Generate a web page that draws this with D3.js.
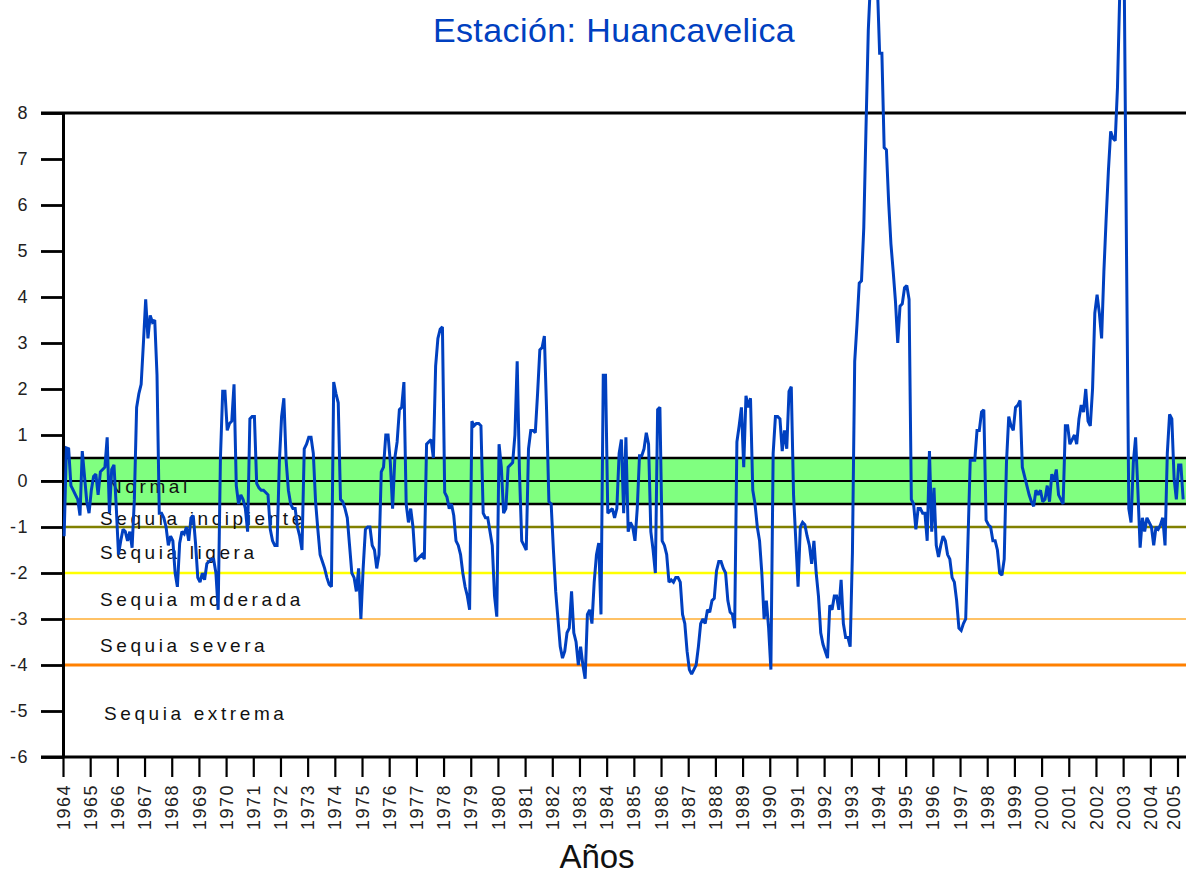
<!DOCTYPE html>
<html>
<head>
<meta charset="utf-8">
<script src="https://cdn.jsdelivr.net/npm/d3@7"></script>
<style>
  html, body { margin: 0; padding: 0; background: #ffffff; }
  svg { display: block; }
</style>
</head>
<body>
<svg id="chart" width="1186" height="876"></svg>
<script>
// Índice estandarizado de precipitación, estación Huancavelica (valores mensuales)
const titulo = "Estación: Huancavelica";
const tituloEjeX = "Años";
const anioInicio = 1964;
const anios = d3.range(1964, 2006);
const ticksY = d3.range(-6, 9);

const spi = [
  -1.2, 0.72, 0.7, -0.1, -0.2, -0.3, -0.4, -0.75, 0.65, 0.1, -0.45, -0.7,      // 1964
  -0.2, 0.1, 0.15, -0.3, 0.2, 0.25, 0.3, 0.95, -0.7, 0.25, 0.35, -0.55,        // 1965
  -1.6, -1.3, -1.05, -1.1, -1.3, -1.1, -1.45, -0.4, 1.6, 1.9, 2.1, 3.0,         // 1966
  3.95, 3.1, 3.6, 3.45, 3.5, 2.3, -0.7, -0.7, -0.8, -1.0, -1.4, -1.2,          // 1967
  -1.3, -2.0, -2.3, -1.35, -1.1, -1.15, -1.0, -1.3, -0.8, -0.75, -1.35, -2.1,  // 1968
  -2.2, -2.0, -2.15, -1.8, -1.75, -1.7, -1.7, -2.0, -2.8, 0.5, 1.95, 1.95,     // 1969
  1.1, 1.25, 1.3, 2.1, -0.1, -0.5, -0.3, -0.4, -0.6, -1.1, 1.35, 1.4,          // 1970
  1.4, -0.05, -0.15, -0.2, -0.2, -0.25, -0.3, -1.05, -1.3, -1.4, -1.4, 0.4,    // 1971
  1.4, 1.8, 0.45, -0.2, -0.5, -0.6, -0.6, -1.0, -1.2, -1.5, 0.7, 0.8,          // 1972
  0.95, 0.95, 0.6, -0.45, -1.05, -1.6, -1.75, -1.9, -2.1, -2.25, -2.3, 2.15,   // 1973
  1.9, 1.7, -0.4, -0.45, -0.6, -0.8, -1.4, -2.0, -2.1, -2.4, -1.9, -3.0,       // 1974
  -1.9, -1.05, -1.0, -1.0, -1.4, -1.5, -1.9, -1.6, 0.2, 0.3, 1.0, 1.0,         // 1975
  0.4, -0.6, 0.5, 0.85, 1.55, 1.6, 2.15, -0.5, -0.9, -0.6, -1.0, -1.75,        // 1976
  -1.7, -1.65, -1.6, -1.7, 0.8, 0.85, 0.9, 0.5, 2.5, 3.1, 3.3, 3.35,           // 1977
  -0.25, -0.35, -0.6, -0.5, -0.75, -1.3, -1.4, -1.6, -2.0, -2.3, -2.5, -2.8,   // 1978
  1.3, 1.2, 1.25, 1.25, 1.2, -0.7, -0.8, -0.8, -1.1, -1.4, -2.5, -2.95,        // 1979
  0.8, 0.3, -0.7, -0.6, 0.3, 0.35, 0.4, 1.0, 2.6, 0.2, -1.3, -1.4,             // 1980
  -1.5, 0.7, 1.1, 1.1, 1.05, 1.9, 2.85, 2.9, 3.15, 1.5, -0.45, -0.5,           // 1981
  -1.5, -2.4, -3.0, -3.6, -3.85, -3.7, -3.3, -3.2, -2.4, -3.3, -3.5, -4.0,     // 1982
  -3.6, -4.0, -4.3, -2.9, -2.8, -3.1, -2.2, -1.6, -1.35, -2.9, 2.3, 2.3,       // 1983
  -0.7, -0.65, -0.6, -0.8, -0.6, 0.6, 0.9, -0.7, 0.95, -1.1, -0.9, -1.0,       // 1984
  -1.3, -0.6, 0.55, 0.55, 0.7, 1.05, 0.8, -1.1, -1.5, -2.0, 1.55, 1.6,         // 1985
  -1.3, -1.4, -1.6, -2.2, -2.15, -2.2, -2.1, -2.1, -2.2, -2.9, -3.1, -3.7,     // 1986
  -4.1, -4.2, -4.1, -4.0, -3.6, -3.1, -3.0, -3.1, -2.8, -2.85, -2.6, -2.55,    // 1987
  -1.95, -1.75, -1.75, -1.9, -2.0, -2.6, -2.85, -2.9, -3.2, 0.85, 1.2, 1.6,    // 1988
  0.3, 1.85, 1.6, 1.8, -0.2, -0.5, -1.0, -1.3, -2.0, -3.0, -2.6, -3.2,         // 1989
  -4.1, 0.6, 1.4, 1.4, 1.35, 0.65, 1.1, 0.7, 1.95, 2.05, -0.3, -1.3,           // 1990
  -2.3, -1.0, -0.9, -0.95, -1.2, -1.4, -1.8, -1.3, -2.0, -2.5, -3.3, -3.55,    // 1991
  -3.7, -3.85, -2.7, -2.8, -2.5, -2.5, -2.8, -2.15, -3.1, -3.4, -3.4, -3.6,    // 1992
  -1.55, 2.6, 3.4, 4.3, 4.35, 5.5, 7.7, 9.8, 10.9, 11.6, 11.4, 10.8,           // 1993
  9.3, 9.3, 7.25, 7.2, 6.05, 5.15, 4.55, 3.9, 3.0, 3.8, 3.85, 4.2,             // 1994
  4.25, 3.95, -0.4, -0.5, -1.05, -0.6, -0.6, -0.7, -0.7, -1.3, 0.65, -1.1,     // 1995
  -0.15, -1.4, -1.65, -1.4, -1.2, -1.3, -1.6, -1.7, -2.1, -2.2, -2.6, -3.2,    // 1996
  -3.25, -3.1, -3.0, -1.3, 0.45, 0.45, 0.45, 1.1, 1.1, 1.5, 1.55, -0.85,       // 1997
  -0.95, -1.0, -1.3, -1.3, -1.5, -2.0, -2.05, -1.7, 0.4, 1.4, 1.2, 1.1,        // 1998
  1.6, 1.65, 1.75, 0.3, 0.1, -0.1, -0.3, -0.45, -0.55, -0.2, -0.3, -0.2,       // 1999
  -0.45, -0.4, -0.1, -0.45, 0.15, 0.0, 0.25, -0.3, -0.4, -0.5, 1.2, 1.2,       // 2000
  0.8, 0.9, 1.0, 0.8, 1.35, 1.65, 1.5, 2.0, 1.3, 1.2, 2.0, 3.65,               // 2001
  4.05, 3.65, 3.1, 4.55, 5.7, 6.75, 7.6, 7.45, 7.4, 8.55, 10.6, 11.2,          // 2002
  10.8, 4.9, -0.6, -0.9, 0.4, 0.95, -0.2, -1.45, -0.8, -1.1, -0.8, -0.9,       // 2003
  -1.0, -1.4, -1.0, -1.05, -0.95, -0.8, -1.4, 0.6, 1.45, 1.35, 0.05, -0.4,     // 2004
  0.35, 0.35, -0.4                                                              // 2005
];

// Categorías de sequía y umbrales que las separan
const categorias = ["Normal", "Sequia incipiente", "Sequia ligera", "Sequia moderada", "Sequia severa", "Sequia extrema"];
const franjaNormal = [-0.5, 0.5];
const umbrales = [-1, -2, -3, -4];
const coloresUmbral = ["#808000", "#ffff00", "#ffc266", "#ff8000"];
const grosorUmbral = [2.5, 2.5, 1.8, 2.8];

// ---- dibujo ----
const W = 1186, H = 876;
const svg = d3.select("#chart");
const fuente = "'Liberation Sans', Arial, Helvetica, sans-serif";

const x = d3.scaleLinear().domain([1964, 2005]).range([63, 1177.5]);
const y = d3.scaleLinear().domain([-6, 8]).range([757, 113]);
const xIzq = x.range()[0];

svg.append("rect").attr("width", W).attr("height", H).attr("fill", "#ffffff");

// Franja de normalidad
svg.append("rect")
  .attr("x", xIzq).attr("y", y(franjaNormal[1]))
  .attr("width", W - xIzq).attr("height", y(franjaNormal[0]) - y(franjaNormal[1]))
  .attr("fill", "#80ff80");
franjaNormal.forEach(v => {
  svg.append("line")
    .attr("x1", xIzq).attr("x2", W).attr("y1", y(v)).attr("y2", y(v))
    .attr("stroke", "#000").attr("stroke-width", 2.6);
});

// Umbrales de sequía
umbrales.forEach((v, i) => {
  svg.append("line")
    .attr("x1", xIzq).attr("x2", W).attr("y1", y(v)).attr("y2", y(v))
    .attr("stroke", coloresUmbral[i]).attr("stroke-width", grosorUmbral[i]);
});

// Líneas horizontales completas en 8, 0 y -6
[8, 0, -6].forEach(v => {
  svg.append("line")
    .attr("x1", xIzq - 22).attr("x2", W).attr("y1", y(v)).attr("y2", y(v))
    .attr("stroke", "#000").attr("stroke-width", v === 0 ? 2.2 : 2.8);
});

// Eje Y
const ejeY = svg.append("g")
  .attr("transform", `translate(${xIzq},0)`)
  .call(d3.axisLeft(y).tickValues(ticksY).tickSize(22).tickSizeOuter(0).tickPadding(12).tickFormat(d => String(d)));
ejeY.select(".domain").attr("stroke", "#000").attr("stroke-width", 3);
ejeY.selectAll(".tick line").attr("stroke", "#000").attr("stroke-width", 2.8);
ejeY.selectAll(".tick text")
  .attr("font-family", fuente).attr("font-size", 18).attr("fill", "#222")
  .attr("letter-spacing", 1.5);

// Eje X (años en vertical; el último se acerca un poco para no salirse del borde)
const ultimoAnio = anios[anios.length - 1];
const ejeX = svg.append("g")
  .attr("transform", `translate(0,${y(-6)})`)
  .call(d3.axisBottom(x).tickValues(anios).tickSize(20).tickSizeOuter(0).tickFormat(d => String(d)));
ejeX.select(".domain").remove();
ejeX.selectAll(".tick line").attr("stroke", "#000").attr("stroke-width", 2.2);
ejeX.selectAll(".tick text")
  .attr("font-family", fuente).attr("font-size", 18).attr("fill", "#222")
  .attr("letter-spacing", 1.5)
  .attr("transform", "rotate(-90)")
  .attr("x", -27).attr("y", 0)
  .attr("dy", d => d === ultimoAnio ? "0.1em" : "0.34em")
  .attr("text-anchor", "end");

// Nombres de categorías
const nivelEtiqueta = [-0.11, -0.8, -1.54, -2.57, -3.57, -5.04];
const xEtiqueta = [108, 100, 100, 100, 100, 104];
svg.append("g").selectAll("text").data(categorias).join("text")
  .attr("x", (d, i) => xEtiqueta[i])
  .attr("y", (d, i) => y(nivelEtiqueta[i]) + 7)
  .attr("font-family", fuente).attr("font-size", 19)
  .attr("letter-spacing", 3.6).attr("fill", "#111")
  .text(d => d);

// Serie mensual
const puntos = spi.map((v, i) => ({ t: anioInicio + (i + 0.5) / 12, v }));
svg.append("path")
  .datum(puntos)
  .attr("fill", "none")
  .attr("stroke", "#0040c0")
  .attr("stroke-width", 3)
  .attr("stroke-linejoin", "miter")
  .attr("stroke-miterlimit", 2)
  .attr("d", d3.line().x(d => x(d.t)).y(d => y(d.v)));

// Títulos
svg.append("text")
  .attr("x", 614).attr("y", 42).attr("text-anchor", "middle")
  .attr("font-family", fuente).attr("font-size", 34).attr("letter-spacing", 0.4)
  .attr("fill", "#0040c0")
  .text(titulo);
svg.append("text")
  .attr("x", 597).attr("y", 868).attr("text-anchor", "middle")
  .attr("font-family", fuente).attr("font-size", 33).attr("fill", "#111")
  .text(tituloEjeX);
</script>
</body>
</html>
